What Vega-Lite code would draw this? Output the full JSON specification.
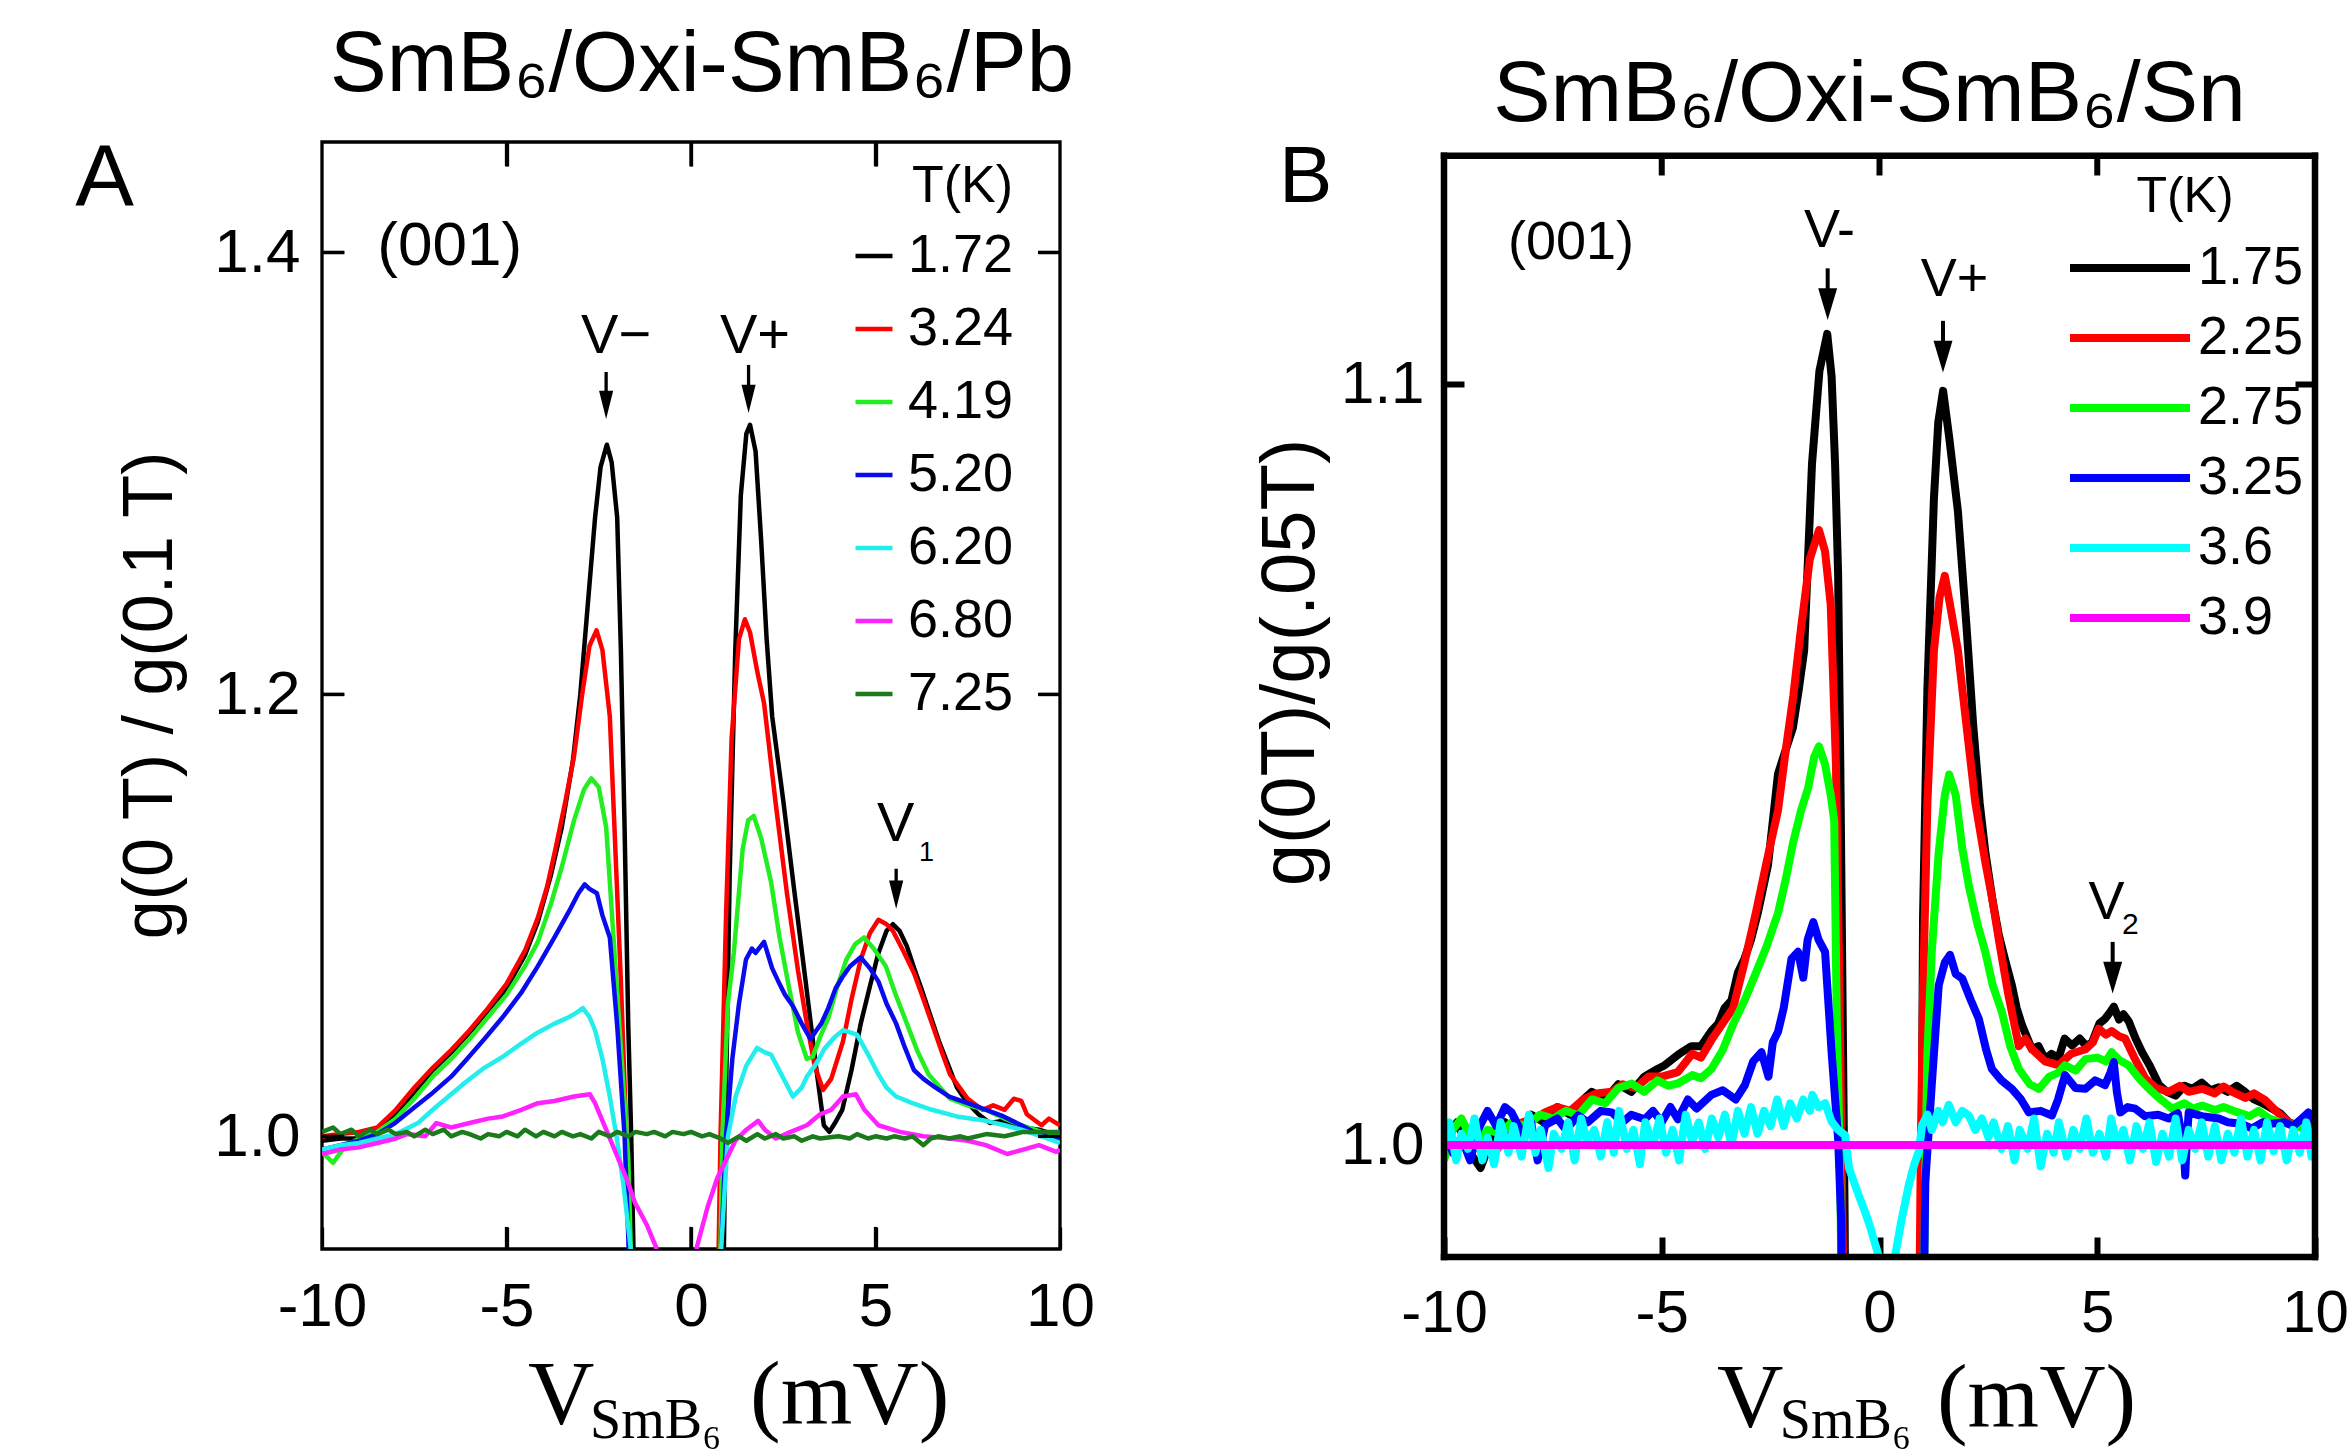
{
"$schema": "https://vega.github.io/schema/vega-lite/v6.json",
"background": "white",
"padding": {"left": 73, "top": 21, "right": 0, "bottom": 0},
"spacing": 155,
"config": {"view": {"stroke": null}, "font": "Liberation Sans"},
"resolve": {"scale": {"x": "independent", "y": "independent", "color": "independent"}, "legend": {"color": "independent"}},
"datasets": {
"curvesA": [
{"T":"1.72","x":-10,"y":0.998},{"T":"1.72","x":-9.5,"y":0.999},{"T":"1.72","x":-9,"y":0.999},{"T":"1.72","x":-8.5,"y":1.002},{"T":"1.72","x":-8,"y":1.01},{"T":"1.72","x":-7.5,"y":1.02},{"T":"1.72","x":-7,"y":1.03},{"T":"1.72","x":-6.5,"y":1.038},{"T":"1.72","x":-6,"y":1.047},{"T":"1.72","x":-5.5,"y":1.057},{"T":"1.72","x":-5,"y":1.067},{"T":"1.72","x":-4.5,"y":1.082},{"T":"1.72","x":-4.15,"y":1.097},{"T":"1.72","x":-3.8,"y":1.118},{"T":"1.72","x":-3.5,"y":1.14},{"T":"1.72","x":-3.2,"y":1.17},{"T":"1.72","x":-3,"y":1.2},{"T":"1.72","x":-2.8,"y":1.24},{"T":"1.72","x":-2.6,"y":1.28},{"T":"1.72","x":-2.45,"y":1.303},{"T":"1.72","x":-2.28,"y":1.313},{"T":"1.72","x":-2.15,"y":1.305},{"T":"1.72","x":-2,"y":1.28},{"T":"1.72","x":-1.9,"y":1.22},{"T":"1.72","x":-1.8,"y":1.14},{"T":"1.72","x":-1.7,"y":1.05},{"T":"1.72","x":-1.62,"y":1.0},{"T":"1.72","x":-1.5,"y":0.9},{"T":"1.72","x":0.85,"y":0.9},{"T":"1.72","x":0.95,"y":1.02},{"T":"1.72","x":1.05,"y":1.12},{"T":"1.72","x":1.2,"y":1.22},{"T":"1.72","x":1.35,"y":1.29},{"T":"1.72","x":1.5,"y":1.318},{"T":"1.72","x":1.6,"y":1.322},{"T":"1.72","x":1.75,"y":1.31},{"T":"1.72","x":1.9,"y":1.27},{"T":"1.72","x":2.05,"y":1.225},{"T":"1.72","x":2.2,"y":1.19},{"T":"1.72","x":2.5,"y":1.152},{"T":"1.72","x":2.8,"y":1.111},{"T":"1.72","x":3.1,"y":1.071},{"T":"1.72","x":3.4,"y":1.03},{"T":"1.72","x":3.6,"y":1.005},{"T":"1.72","x":3.75,"y":1.002},{"T":"1.72","x":3.9,"y":1.006},{"T":"1.72","x":4.1,"y":1.012},{"T":"1.72","x":4.35,"y":1.03},{"T":"1.72","x":4.6,"y":1.051},{"T":"1.72","x":4.85,"y":1.068},{"T":"1.72","x":5.08,"y":1.083},{"T":"1.72","x":5.3,"y":1.093},{"T":"1.72","x":5.47,"y":1.096},{"T":"1.72","x":5.65,"y":1.093},{"T":"1.72","x":5.85,"y":1.086},{"T":"1.72","x":6.05,"y":1.076},{"T":"1.72","x":6.24,"y":1.067},{"T":"1.72","x":6.5,"y":1.054},{"T":"1.72","x":6.72,"y":1.043},{"T":"1.72","x":7,"y":1.031},{"T":"1.72","x":7.21,"y":1.022},{"T":"1.72","x":7.5,"y":1.015},{"T":"1.72","x":7.79,"y":1.01},{"T":"1.72","x":8.1,"y":1.006},{"T":"1.72","x":8.47,"y":1.007},{"T":"1.72","x":9,"y":1.004},{"T":"1.72","x":9.43,"y":1.003},{"T":"1.72","x":10,"y":1.0},
{"T":"3.24","x":-10,"y":1.0},{"T":"3.24","x":-9.5,"y":1.001},{"T":"3.24","x":-9,"y":1.002},{"T":"3.24","x":-8.5,"y":1.004},{"T":"3.24","x":-8,"y":1.012},{"T":"3.24","x":-7.5,"y":1.022},{"T":"3.24","x":-7,"y":1.031},{"T":"3.24","x":-6.5,"y":1.039},{"T":"3.24","x":-6,"y":1.048},{"T":"3.24","x":-5.5,"y":1.058},{"T":"3.24","x":-5,"y":1.069},{"T":"3.24","x":-4.5,"y":1.084},{"T":"3.24","x":-4.15,"y":1.099},{"T":"3.24","x":-3.9,"y":1.113},{"T":"3.24","x":-3.66,"y":1.131},{"T":"3.24","x":-3.4,"y":1.152},{"T":"3.24","x":-3.17,"y":1.172},{"T":"3.24","x":-2.95,"y":1.2},{"T":"3.24","x":-2.75,"y":1.222},{"T":"3.24","x":-2.56,"y":1.229},{"T":"3.24","x":-2.4,"y":1.22},{"T":"3.24","x":-2.2,"y":1.19},{"T":"3.24","x":-2.05,"y":1.13},{"T":"3.24","x":-1.9,"y":1.07},{"T":"3.24","x":-1.75,"y":1.0},{"T":"3.24","x":-1.6,"y":0.9},{"T":"3.24","x":0.7,"y":0.9},{"T":"3.24","x":0.8,"y":1.0},{"T":"3.24","x":0.95,"y":1.1},{"T":"3.24","x":1.1,"y":1.18},{"T":"3.24","x":1.3,"y":1.225},{"T":"3.24","x":1.46,"y":1.234},{"T":"3.24","x":1.6,"y":1.228},{"T":"3.24","x":1.8,"y":1.21},{"T":"3.24","x":1.98,"y":1.196},{"T":"3.24","x":2.3,"y":1.15},{"T":"3.24","x":2.6,"y":1.11},{"T":"3.24","x":2.9,"y":1.075},{"T":"3.24","x":3.14,"y":1.051},{"T":"3.24","x":3.35,"y":1.032},{"T":"3.24","x":3.58,"y":1.021},{"T":"3.24","x":3.8,"y":1.026},{"T":"3.24","x":4.12,"y":1.043},{"T":"3.24","x":4.35,"y":1.062},{"T":"3.24","x":4.6,"y":1.08},{"T":"3.24","x":4.85,"y":1.092},{"T":"3.24","x":5.08,"y":1.098},{"T":"3.24","x":5.3,"y":1.096},{"T":"3.24","x":5.47,"y":1.093},{"T":"3.24","x":5.75,"y":1.084},{"T":"3.24","x":6.04,"y":1.074},{"T":"3.24","x":6.3,"y":1.062},{"T":"3.24","x":6.53,"y":1.051},{"T":"3.24","x":6.8,"y":1.038},{"T":"3.24","x":7.02,"y":1.028},{"T":"3.24","x":7.5,"y":1.017},{"T":"3.24","x":7.9,"y":1.012},{"T":"3.24","x":8.19,"y":1.014},{"T":"3.24","x":8.5,"y":1.012},{"T":"3.24","x":8.75,"y":1.017},{"T":"3.24","x":8.95,"y":1.016},{"T":"3.24","x":9.1,"y":1.01},{"T":"3.24","x":9.5,"y":1.005},{"T":"3.24","x":9.7,"y":1.008},{"T":"3.24","x":10,"y":1.005},
{"T":"4.19","x":-10,"y":0.993},{"T":"4.19","x":-9.7,"y":0.988},{"T":"4.19","x":-9.4,"y":0.995},{"T":"4.19","x":-9,"y":0.999},{"T":"4.19","x":-8.5,"y":1.002},{"T":"4.19","x":-8,"y":1.008},{"T":"4.19","x":-7.5,"y":1.017},{"T":"4.19","x":-7,"y":1.027},{"T":"4.19","x":-6.5,"y":1.035},{"T":"4.19","x":-6,"y":1.044},{"T":"4.19","x":-5.5,"y":1.054},{"T":"4.19","x":-5,"y":1.064},{"T":"4.19","x":-4.5,"y":1.077},{"T":"4.19","x":-4.15,"y":1.088},{"T":"4.19","x":-3.8,"y":1.105},{"T":"4.19","x":-3.5,"y":1.122},{"T":"4.19","x":-3.17,"y":1.143},{"T":"4.19","x":-2.9,"y":1.157},{"T":"4.19","x":-2.7,"y":1.162},{"T":"4.19","x":-2.5,"y":1.158},{"T":"4.19","x":-2.3,"y":1.14},{"T":"4.19","x":-2.1,"y":1.09},{"T":"4.19","x":-1.9,"y":1.04},{"T":"4.19","x":-1.7,"y":0.99},{"T":"4.19","x":-1.55,"y":0.9},{"T":"4.19","x":0.75,"y":0.9},{"T":"4.19","x":0.85,"y":1.0},{"T":"4.19","x":1.0,"y":1.06},{"T":"4.19","x":1.16,"y":1.083},{"T":"4.19","x":1.4,"y":1.13},{"T":"4.19","x":1.55,"y":1.143},{"T":"4.19","x":1.7,"y":1.145},{"T":"4.19","x":1.9,"y":1.135},{"T":"4.19","x":2.17,"y":1.115},{"T":"4.19","x":2.4,"y":1.09},{"T":"4.19","x":2.66,"y":1.067},{"T":"4.19","x":2.9,"y":1.047},{"T":"4.19","x":3.14,"y":1.035},{"T":"4.19","x":3.3,"y":1.036},{"T":"4.19","x":3.5,"y":1.045},{"T":"4.19","x":3.73,"y":1.054},{"T":"4.19","x":3.95,"y":1.067},{"T":"4.19","x":4.21,"y":1.08},{"T":"4.19","x":4.45,"y":1.087},{"T":"4.19","x":4.69,"y":1.09},{"T":"4.19","x":4.95,"y":1.085},{"T":"4.19","x":5.28,"y":1.077},{"T":"4.19","x":5.55,"y":1.064},{"T":"4.19","x":5.85,"y":1.051},{"T":"4.19","x":6.15,"y":1.038},{"T":"4.19","x":6.44,"y":1.028},{"T":"4.19","x":7.02,"y":1.017},{"T":"4.19","x":7.5,"y":1.014},{"T":"4.19","x":7.99,"y":1.012},{"T":"4.19","x":8.5,"y":1.008},{"T":"4.19","x":8.95,"y":1.005},{"T":"4.19","x":9.5,"y":1.002},{"T":"4.19","x":10,"y":1.0},
{"T":"5.20","x":-10,"y":0.994},{"T":"5.20","x":-9.5,"y":0.996},{"T":"5.20","x":-9,"y":0.998},{"T":"5.20","x":-8.5,"y":1.001},{"T":"5.20","x":-8.02,"y":1.006},{"T":"5.20","x":-7.5,"y":1.013},{"T":"5.20","x":-7.05,"y":1.019},{"T":"5.20","x":-6.5,"y":1.027},{"T":"5.20","x":-6.07,"y":1.035},{"T":"5.20","x":-5.6,"y":1.044},{"T":"5.20","x":-5.1,"y":1.054},{"T":"5.20","x":-4.6,"y":1.065},{"T":"5.20","x":-4.15,"y":1.077},{"T":"5.20","x":-3.7,"y":1.09},{"T":"5.20","x":-3.3,"y":1.102},{"T":"5.20","x":-3.05,"y":1.11},{"T":"5.20","x":-2.88,"y":1.114},{"T":"5.20","x":-2.75,"y":1.112},{"T":"5.20","x":-2.55,"y":1.11},{"T":"5.20","x":-2.4,"y":1.1},{"T":"5.20","x":-2.2,"y":1.09},{"T":"5.20","x":-2,"y":1.05},{"T":"5.20","x":-1.8,"y":1.0},{"T":"5.20","x":-1.69,"y":0.95},{"T":"5.20","x":-1.55,"y":0.9},{"T":"5.20","x":0.7,"y":0.9},{"T":"5.20","x":0.82,"y":0.95},{"T":"5.20","x":0.95,"y":1.0},{"T":"5.20","x":1.12,"y":1.035},{"T":"5.20","x":1.3,"y":1.06},{"T":"5.20","x":1.49,"y":1.08},{"T":"5.20","x":1.65,"y":1.085},{"T":"5.20","x":1.75,"y":1.083},{"T":"5.20","x":1.98,"y":1.088},{"T":"5.20","x":2.2,"y":1.076},{"T":"5.20","x":2.37,"y":1.07},{"T":"5.20","x":2.55,"y":1.064},{"T":"5.20","x":2.76,"y":1.059},{"T":"5.20","x":3,"y":1.051},{"T":"5.20","x":3.24,"y":1.044},{"T":"5.20","x":3.4,"y":1.048},{"T":"5.20","x":3.53,"y":1.051},{"T":"5.20","x":3.72,"y":1.058},{"T":"5.20","x":3.92,"y":1.067},{"T":"5.20","x":4.1,"y":1.072},{"T":"5.20","x":4.31,"y":1.077},{"T":"5.20","x":4.6,"y":1.081},{"T":"5.20","x":4.85,"y":1.076},{"T":"5.20","x":5.08,"y":1.07},{"T":"5.20","x":5.3,"y":1.06},{"T":"5.20","x":5.56,"y":1.051},{"T":"5.20","x":5.8,"y":1.04},{"T":"5.20","x":6.04,"y":1.03},{"T":"5.20","x":6.3,"y":1.026},{"T":"5.20","x":6.63,"y":1.022},{"T":"5.20","x":7,"y":1.018},{"T":"5.20","x":7.5,"y":1.015},{"T":"5.20","x":8,"y":1.012},{"T":"5.20","x":8.47,"y":1.009},{"T":"5.20","x":8.95,"y":1.005},{"T":"5.20","x":9.4,"y":1.001},{"T":"5.20","x":10,"y":0.998},
{"T":"6.20","x":-10,"y":0.994},{"T":"6.20","x":-9.5,"y":0.996},{"T":"6.20","x":-9,"y":0.997},{"T":"6.20","x":-8.5,"y":0.999},{"T":"6.20","x":-8,"y":1.001},{"T":"6.20","x":-7.4,"y":1.006},{"T":"6.20","x":-7,"y":1.012},{"T":"6.20","x":-6.5,"y":1.019},{"T":"6.20","x":-6.07,"y":1.025},{"T":"6.20","x":-5.6,"y":1.031},{"T":"6.20","x":-5.1,"y":1.036},{"T":"6.20","x":-4.6,"y":1.042},{"T":"6.20","x":-4.15,"y":1.047},{"T":"6.20","x":-3.7,"y":1.051},{"T":"6.20","x":-3.3,"y":1.054},{"T":"6.20","x":-3.1,"y":1.056},{"T":"6.20","x":-2.93,"y":1.058},{"T":"6.20","x":-2.75,"y":1.054},{"T":"6.20","x":-2.6,"y":1.048},{"T":"6.20","x":-2.4,"y":1.035},{"T":"6.20","x":-2.2,"y":1.018},{"T":"6.20","x":-2,"y":0.998},{"T":"6.20","x":-1.83,"y":0.978},{"T":"6.20","x":-1.64,"y":0.95},{"T":"6.20","x":-1.5,"y":0.9},{"T":"6.20","x":0.7,"y":0.9},{"T":"6.20","x":0.82,"y":0.95},{"T":"6.20","x":1.0,"y":1.0},{"T":"6.20","x":1.21,"y":1.018},{"T":"6.20","x":1.5,"y":1.032},{"T":"6.20","x":1.79,"y":1.04},{"T":"6.20","x":2,"y":1.038},{"T":"6.20","x":2.17,"y":1.037},{"T":"6.20","x":2.45,"y":1.028},{"T":"6.20","x":2.76,"y":1.018},{"T":"6.20","x":3,"y":1.022},{"T":"6.20","x":3.14,"y":1.027},{"T":"6.20","x":3.4,"y":1.033},{"T":"6.20","x":3.63,"y":1.04},{"T":"6.20","x":3.9,"y":1.045},{"T":"6.20","x":4.12,"y":1.048},{"T":"6.20","x":4.5,"y":1.046},{"T":"6.20","x":4.8,"y":1.037},{"T":"6.20","x":5.08,"y":1.028},{"T":"6.20","x":5.3,"y":1.022},{"T":"6.20","x":5.56,"y":1.018},{"T":"6.20","x":6,"y":1.015},{"T":"6.20","x":6.53,"y":1.012},{"T":"6.20","x":7.2,"y":1.009},{"T":"6.20","x":7.99,"y":1.007},{"T":"6.20","x":8.5,"y":1.005},{"T":"6.20","x":8.95,"y":1.003},{"T":"6.20","x":9.5,"y":1.0},{"T":"6.20","x":10,"y":0.997},
{"T":"6.80","x":-10,"y":0.992},{"T":"6.80","x":-9.5,"y":0.994},{"T":"6.80","x":-9,"y":0.995},{"T":"6.80","x":-8.5,"y":0.997},{"T":"6.80","x":-8,"y":0.999},{"T":"6.80","x":-7.7,"y":1.001},{"T":"6.80","x":-7.2,"y":1.0},{"T":"6.80","x":-6.9,"y":1.006},{"T":"6.80","x":-6.5,"y":1.004},{"T":"6.80","x":-6,"y":1.006},{"T":"6.80","x":-5.5,"y":1.008},{"T":"6.80","x":-5.1,"y":1.009},{"T":"6.80","x":-4.6,"y":1.012},{"T":"6.80","x":-4.15,"y":1.015},{"T":"6.80","x":-3.7,"y":1.016},{"T":"6.80","x":-3.17,"y":1.018},{"T":"6.80","x":-2.74,"y":1.019},{"T":"6.80","x":-2.6,"y":1.015},{"T":"6.80","x":-2.3,"y":1.003},{"T":"6.80","x":-2,"y":0.991},{"T":"6.80","x":-1.75,"y":0.981},{"T":"6.80","x":-1.52,"y":0.97},{"T":"6.80","x":-1.2,"y":0.96},{"T":"6.80","x":-0.95,"y":0.95},{"T":"6.80","x":-0.8,"y":0.93},{"T":"6.80","x":0.05,"y":0.93},{"T":"6.80","x":0.16,"y":0.95},{"T":"6.80","x":0.45,"y":0.968},{"T":"6.80","x":0.71,"y":0.981},{"T":"6.80","x":1.0,"y":0.991},{"T":"6.80","x":1.2,"y":0.998},{"T":"6.80","x":1.5,"y":1.003},{"T":"6.80","x":1.82,"y":1.007},{"T":"6.80","x":2,"y":1.003},{"T":"6.80","x":2.3,"y":0.999},{"T":"6.80","x":2.7,"y":1.002},{"T":"6.80","x":3.14,"y":1.005},{"T":"6.80","x":3.5,"y":1.01},{"T":"6.80","x":3.8,"y":1.012},{"T":"6.80","x":4.12,"y":1.018},{"T":"6.80","x":4.47,"y":1.019},{"T":"6.80","x":4.7,"y":1.012},{"T":"6.80","x":5.08,"y":1.005},{"T":"6.80","x":5.66,"y":1.002},{"T":"6.80","x":6.3,"y":1.0},{"T":"6.80","x":7.02,"y":0.999},{"T":"6.80","x":7.5,"y":0.998},{"T":"6.80","x":7.99,"y":0.996},{"T":"6.80","x":8.57,"y":0.992},{"T":"6.80","x":9,"y":0.994},{"T":"6.80","x":9.43,"y":0.996},{"T":"6.80","x":9.9,"y":0.993},{"T":"6.80","x":10,"y":0.994},
{"T":"7.25","x":-10,"y":1.002},{"T":"7.25","x":-9.7,"y":1.004},{"T":"7.25","x":-9.5,"y":1.001},{"T":"7.25","x":-9.2,"y":1.003},{"T":"7.25","x":-9,"y":1.0},{"T":"7.25","x":-8.7,"y":1.003},{"T":"7.25","x":-8.5,"y":1.001},{"T":"7.25","x":-8.2,"y":1.003},{"T":"7.25","x":-8,"y":1.001},{"T":"7.25","x":-7.7,"y":1.002},{"T":"7.25","x":-7.5,"y":1.0},{"T":"7.25","x":-7.2,"y":1.003},{"T":"7.25","x":-7,"y":1.001},{"T":"7.25","x":-6.7,"y":1.003},{"T":"7.25","x":-6.5,"y":1.0},{"T":"7.25","x":-6.2,"y":1.002},{"T":"7.25","x":-6,"y":1.001},{"T":"7.25","x":-5.7,"y":0.999},{"T":"7.25","x":-5.5,"y":1.001},{"T":"7.25","x":-5.2,"y":1.0},{"T":"7.25","x":-5,"y":1.002},{"T":"7.25","x":-4.7,"y":1.0},{"T":"7.25","x":-4.5,"y":1.003},{"T":"7.25","x":-4.2,"y":1.0},{"T":"7.25","x":-4,"y":1.002},{"T":"7.25","x":-3.7,"y":1.0},{"T":"7.25","x":-3.5,"y":1.002},{"T":"7.25","x":-3.2,"y":1.0},{"T":"7.25","x":-3,"y":1.001},{"T":"7.25","x":-2.7,"y":0.999},{"T":"7.25","x":-2.5,"y":1.002},{"T":"7.25","x":-2.2,"y":1.0},{"T":"7.25","x":-2,"y":1.002},{"T":"7.25","x":-1.7,"y":1.0},{"T":"7.25","x":-1.5,"y":1.002},{"T":"7.25","x":-1.2,"y":1.001},{"T":"7.25","x":-1,"y":1.002},{"T":"7.25","x":-0.7,"y":1.0},{"T":"7.25","x":-0.5,"y":1.002},{"T":"7.25","x":-0.2,"y":1.001},{"T":"7.25","x":0,"y":1.002},{"T":"7.25","x":0.3,"y":1.0},{"T":"7.25","x":0.5,"y":1.001},{"T":"7.25","x":0.8,"y":0.999},{"T":"7.25","x":1,"y":0.997},{"T":"7.25","x":1.3,"y":1.0},{"T":"7.25","x":1.5,"y":0.998},{"T":"7.25","x":1.8,"y":1.001},{"T":"7.25","x":2,"y":0.999},{"T":"7.25","x":2.3,"y":1.001},{"T":"7.25","x":2.5,"y":0.999},{"T":"7.25","x":2.8,"y":1.0},{"T":"7.25","x":3,"y":0.998},{"T":"7.25","x":3.3,"y":1.0},{"T":"7.25","x":3.5,"y":0.999},{"T":"7.25","x":4,"y":1.0},{"T":"7.25","x":4.3,"y":0.999},{"T":"7.25","x":4.5,"y":1.001},{"T":"7.25","x":4.8,"y":0.999},{"T":"7.25","x":5,"y":1.0},{"T":"7.25","x":5.3,"y":0.999},{"T":"7.25","x":5.5,"y":1.0},{"T":"7.25","x":5.8,"y":0.999},{"T":"7.25","x":6,"y":1.0},{"T":"7.25","x":6.3,"y":0.996},{"T":"7.25","x":6.5,"y":0.999},{"T":"7.25","x":6.7,"y":1.0},{"T":"7.25","x":7,"y":0.999},{"T":"7.25","x":7.3,"y":1.0},{"T":"7.25","x":7.5,"y":0.999},{"T":"7.25","x":8,"y":1.001},{"T":"7.25","x":8.5,"y":1.0},{"T":"7.25","x":9,"y":1.002},{"T":"7.25","x":9.5,"y":1.002},{"T":"7.25","x":10,"y":1.002}
],
"curvesB": [
{"T":"1.75","x":-10,"y":1.0},{"T":"1.75","x":-9.7,"y":1.003},{"T":"1.75","x":-9.4,"y":0.999},{"T":"1.75","x":-9.16,"y":0.997},{"T":"1.75","x":-8.9,"y":1.001},{"T":"1.75","x":-8.6,"y":1.003},{"T":"1.75","x":-8.3,"y":1.001},{"T":"1.75","x":-8,"y":1.004},{"T":"1.75","x":-7.7,"y":1.003},{"T":"1.75","x":-7.4,"y":1.005},{"T":"1.75","x":-7.1,"y":1.004},{"T":"1.75","x":-6.8,"y":1.006},{"T":"1.75","x":-6.61,"y":1.007},{"T":"1.75","x":-6.3,"y":1.006},{"T":"1.75","x":-6,"y":1.008},{"T":"1.75","x":-5.7,"y":1.007},{"T":"1.75","x":-5.4,"y":1.009},{"T":"1.75","x":-5.1,"y":1.01},{"T":"1.75","x":-4.93,"y":1.0105},{"T":"1.75","x":-4.6,"y":1.012},{"T":"1.75","x":-4.32,"y":1.013},{"T":"1.75","x":-4.1,"y":1.013},{"T":"1.75","x":-3.86,"y":1.015},{"T":"1.75","x":-3.7,"y":1.016},{"T":"1.75","x":-3.56,"y":1.018},{"T":"1.75","x":-3.4,"y":1.019},{"T":"1.75","x":-3.25,"y":1.0227},{"T":"1.75","x":-3.1,"y":1.0245},{"T":"1.75","x":-2.95,"y":1.027},{"T":"1.75","x":-2.79,"y":1.0306},{"T":"1.75","x":-2.56,"y":1.0368},{"T":"1.75","x":-2.33,"y":1.0488},{"T":"1.75","x":-2.15,"y":1.052},{"T":"1.75","x":-1.99,"y":1.0548},{"T":"1.75","x":-1.85,"y":1.06},{"T":"1.75","x":-1.73,"y":1.065},{"T":"1.75","x":-1.55,"y":1.0895},{"T":"1.75","x":-1.38,"y":1.1017},{"T":"1.75","x":-1.2,"y":1.1066},{"T":"1.75","x":-1.1,"y":1.101},{"T":"1.75","x":-1.02,"y":1.0895},{"T":"1.75","x":-0.95,"y":1.075},{"T":"1.75","x":-0.9,"y":1.05},{"T":"1.75","x":-0.85,"y":1.02},{"T":"1.75","x":-0.8,"y":0.99},{"T":"1.75","x":-0.78,"y":0.97},{"T":"1.75","x":0.93,"y":0.97},{"T":"1.75","x":0.97,"y":1.0},{"T":"1.75","x":1.0,"y":1.03},{"T":"1.75","x":1.1,"y":1.06},{"T":"1.75","x":1.25,"y":1.085},{"T":"1.75","x":1.35,"y":1.095},{"T":"1.75","x":1.46,"y":1.0991},{"T":"1.75","x":1.6,"y":1.093},{"T":"1.75","x":1.8,"y":1.0833},{"T":"1.75","x":2,"y":1.068},{"T":"1.75","x":2.15,"y":1.0553},{"T":"1.75","x":2.3,"y":1.045},{"T":"1.75","x":2.43,"y":1.0385},{"T":"1.75","x":2.6,"y":1.032},{"T":"1.75","x":2.74,"y":1.0276},{"T":"1.75","x":2.9,"y":1.024},{"T":"1.75","x":3.04,"y":1.021},{"T":"1.75","x":3.15,"y":1.018},{"T":"1.75","x":3.27,"y":1.0158},{"T":"1.75","x":3.5,"y":1.0126},{"T":"1.75","x":3.65,"y":1.013},{"T":"1.75","x":3.8,"y":1.0113},{"T":"1.75","x":3.95,"y":1.012},{"T":"1.75","x":4.11,"y":1.0114},{"T":"1.75","x":4.25,"y":1.014},{"T":"1.75","x":4.42,"y":1.0131},{"T":"1.75","x":4.6,"y":1.014},{"T":"1.75","x":4.75,"y":1.013},{"T":"1.75","x":4.88,"y":1.0135},{"T":"1.75","x":5.05,"y":1.016},{"T":"1.75","x":5.18,"y":1.0166},{"T":"1.75","x":5.3,"y":1.0175},{"T":"1.75","x":5.38,"y":1.0182},{"T":"1.75","x":5.5,"y":1.0165},{"T":"1.75","x":5.6,"y":1.0172},{"T":"1.75","x":5.72,"y":1.0163},{"T":"1.75","x":5.88,"y":1.014},{"T":"1.75","x":6.03,"y":1.0122},{"T":"1.75","x":6.2,"y":1.0105},{"T":"1.75","x":6.42,"y":1.0079},{"T":"1.75","x":6.6,"y":1.007},{"T":"1.75","x":6.8,"y":1.0065},{"T":"1.75","x":7,"y":1.0078},{"T":"1.75","x":7.18,"y":1.0074},{"T":"1.75","x":7.4,"y":1.0082},{"T":"1.75","x":7.6,"y":1.0072},{"T":"1.75","x":7.79,"y":1.0076},{"T":"1.75","x":8,"y":1.007},{"T":"1.75","x":8.2,"y":1.0078},{"T":"1.75","x":8.39,"y":1.007},{"T":"1.75","x":8.6,"y":1.006},{"T":"1.75","x":8.8,"y":1.0055},{"T":"1.75","x":9.01,"y":1.0048},{"T":"1.75","x":9.2,"y":1.0042},{"T":"1.75","x":9.4,"y":1.003},{"T":"1.75","x":9.54,"y":1.0026},{"T":"1.75","x":9.75,"y":1.003},{"T":"1.75","x":9.92,"y":1.0035},{"T":"1.75","x":10,"y":1.0025},
{"T":"2.25","x":-10,"y":1.001},{"T":"2.25","x":-9.8,"y":0.999},{"T":"2.25","x":-9.5,"y":1.002},{"T":"2.25","x":-9.2,"y":0.9995},{"T":"2.25","x":-8.83,"y":0.999},{"T":"2.25","x":-8.5,"y":1.002},{"T":"2.25","x":-8.2,"y":1.003},{"T":"2.25","x":-7.9,"y":1.0035},{"T":"2.25","x":-7.68,"y":1.0043},{"T":"2.25","x":-7.4,"y":1.005},{"T":"2.25","x":-7.1,"y":1.0045},{"T":"2.25","x":-6.8,"y":1.006},{"T":"2.25","x":-6.5,"y":1.0068},{"T":"2.25","x":-6.15,"y":1.007},{"T":"2.25","x":-5.9,"y":1.008},{"T":"2.25","x":-5.6,"y":1.0075},{"T":"2.25","x":-5.3,"y":1.009},{"T":"2.25","x":-5,"y":1.009},{"T":"2.25","x":-4.63,"y":1.0096},{"T":"2.25","x":-4.3,"y":1.012},{"T":"2.25","x":-4.1,"y":1.0115},{"T":"2.25","x":-3.86,"y":1.0138},{"T":"2.25","x":-3.6,"y":1.016},{"T":"2.25","x":-3.36,"y":1.018},{"T":"2.25","x":-3.1,"y":1.024},{"T":"2.25","x":-2.84,"y":1.0305},{"T":"2.25","x":-2.6,"y":1.037},{"T":"2.25","x":-2.33,"y":1.044},{"T":"2.25","x":-2.15,"y":1.052},{"T":"2.25","x":-1.98,"y":1.059},{"T":"2.25","x":-1.8,"y":1.068},{"T":"2.25","x":-1.6,"y":1.077},{"T":"2.25","x":-1.39,"y":1.0808},{"T":"2.25","x":-1.25,"y":1.078},{"T":"2.25","x":-1.12,"y":1.071},{"T":"2.25","x":-1,"y":1.05},{"T":"2.25","x":-0.92,"y":1.02},{"T":"2.25","x":-0.85,"y":0.99},{"T":"2.25","x":-0.8,"y":0.97},{"T":"2.25","x":0.9,"y":0.97},{"T":"2.25","x":0.95,"y":1.0},{"T":"2.25","x":1.0,"y":1.02},{"T":"2.25","x":1.1,"y":1.045},{"T":"2.25","x":1.25,"y":1.065},{"T":"2.25","x":1.38,"y":1.072},{"T":"2.25","x":1.5,"y":1.0748},{"T":"2.25","x":1.65,"y":1.07},{"T":"2.25","x":1.8,"y":1.065},{"T":"2.25","x":2,"y":1.055},{"T":"2.25","x":2.2,"y":1.045},{"T":"2.25","x":2.43,"y":1.0372},{"T":"2.25","x":2.6,"y":1.032},{"T":"2.25","x":2.74,"y":1.027},{"T":"2.25","x":2.95,"y":1.02},{"T":"2.25","x":3.2,"y":1.013},{"T":"2.25","x":3.35,"y":1.014},{"T":"2.25","x":3.5,"y":1.0126},{"T":"2.25","x":3.8,"y":1.011},{"T":"2.25","x":4.11,"y":1.0105},{"T":"2.25","x":4.4,"y":1.012},{"T":"2.25","x":4.73,"y":1.0126},{"T":"2.25","x":4.9,"y":1.0135},{"T":"2.25","x":5.03,"y":1.0153},{"T":"2.25","x":5.2,"y":1.0145},{"T":"2.25","x":5.33,"y":1.015},{"T":"2.25","x":5.5,"y":1.0143},{"T":"2.25","x":5.64,"y":1.014},{"T":"2.25","x":5.85,"y":1.0115},{"T":"2.25","x":6.1,"y":1.0088},{"T":"2.25","x":6.35,"y":1.0075},{"T":"2.25","x":6.64,"y":1.007},{"T":"2.25","x":6.9,"y":1.0078},{"T":"2.25","x":7.1,"y":1.007},{"T":"2.25","x":7.41,"y":1.0074},{"T":"2.25","x":7.7,"y":1.0068},{"T":"2.25","x":7.9,"y":1.0077},{"T":"2.25","x":8.1,"y":1.007},{"T":"2.25","x":8.4,"y":1.0062},{"T":"2.25","x":8.6,"y":1.0068},{"T":"2.25","x":8.86,"y":1.0059},{"T":"2.25","x":9.1,"y":1.0045},{"T":"2.25","x":9.4,"y":1.003},{"T":"2.25","x":9.62,"y":1.0026},{"T":"2.25","x":9.85,"y":1.0032},{"T":"2.25","x":10,"y":1.002},
{"T":"2.75","x":-10,"y":0.998},{"T":"2.75","x":-9.8,"y":1.002},{"T":"2.75","x":-9.6,"y":1.0035},{"T":"2.75","x":-9.3,"y":1.0},{"T":"2.75","x":-9,"y":1.002},{"T":"2.75","x":-8.7,"y":1.0015},{"T":"2.75","x":-8.45,"y":1.003},{"T":"2.75","x":-8.1,"y":1.0025},{"T":"2.75","x":-7.8,"y":1.004},{"T":"2.75","x":-7.5,"y":1.0035},{"T":"2.75","x":-7.2,"y":1.0045},{"T":"2.75","x":-6.92,"y":1.0039},{"T":"2.75","x":-6.6,"y":1.006},{"T":"2.75","x":-6.3,"y":1.0055},{"T":"2.75","x":-6,"y":1.0075},{"T":"2.75","x":-5.69,"y":1.0081},{"T":"2.75","x":-5.4,"y":1.007},{"T":"2.75","x":-5.1,"y":1.0085},{"T":"2.75","x":-4.85,"y":1.0078},{"T":"2.75","x":-4.63,"y":1.0081},{"T":"2.75","x":-4.3,"y":1.0092},{"T":"2.75","x":-4.1,"y":1.0088},{"T":"2.75","x":-3.86,"y":1.01},{"T":"2.75","x":-3.6,"y":1.0125},{"T":"2.75","x":-3.36,"y":1.0159},{"T":"2.75","x":-3.1,"y":1.019},{"T":"2.75","x":-2.84,"y":1.0226},{"T":"2.75","x":-2.6,"y":1.026},{"T":"2.75","x":-2.33,"y":1.0305},{"T":"2.75","x":-2.15,"y":1.035},{"T":"2.75","x":-1.99,"y":1.0396},{"T":"2.75","x":-1.8,"y":1.044},{"T":"2.75","x":-1.64,"y":1.0469},{"T":"2.75","x":-1.5,"y":1.051},{"T":"2.75","x":-1.39,"y":1.0524},{"T":"2.75","x":-1.25,"y":1.05},{"T":"2.75","x":-1.12,"y":1.046},{"T":"2.75","x":-1.04,"y":1.0426},{"T":"2.75","x":-0.98,"y":1.016},{"T":"2.75","x":-0.9,"y":0.995},{"T":"2.75","x":-0.85,"y":0.97},{"T":"2.75","x":1.0,"y":0.97},{"T":"2.75","x":1.05,"y":0.995},{"T":"2.75","x":1.1,"y":1.012},{"T":"2.75","x":1.2,"y":1.0254},{"T":"2.75","x":1.36,"y":1.0385},{"T":"2.75","x":1.5,"y":1.046},{"T":"2.75","x":1.6,"y":1.0487},{"T":"2.75","x":1.75,"y":1.046},{"T":"2.75","x":1.9,"y":1.039},{"T":"2.75","x":2.05,"y":1.0341},{"T":"2.75","x":2.25,"y":1.029},{"T":"2.75","x":2.43,"y":1.0254},{"T":"2.75","x":2.6,"y":1.021},{"T":"2.75","x":2.81,"y":1.0175},{"T":"2.75","x":3,"y":1.013},{"T":"2.75","x":3.2,"y":1.01},{"T":"2.75","x":3.45,"y":1.008},{"T":"2.75","x":3.66,"y":1.0074},{"T":"2.75","x":3.9,"y":1.009},{"T":"2.75","x":4.1,"y":1.0095},{"T":"2.75","x":4.26,"y":1.0105},{"T":"2.75","x":4.5,"y":1.0098},{"T":"2.75","x":4.73,"y":1.0113},{"T":"2.75","x":5,"y":1.0115},{"T":"2.75","x":5.2,"y":1.011},{"T":"2.75","x":5.33,"y":1.0122},{"T":"2.75","x":5.5,"y":1.0112},{"T":"2.75","x":5.72,"y":1.0105},{"T":"2.75","x":6,"y":1.0085},{"T":"2.75","x":6.26,"y":1.007},{"T":"2.75","x":6.5,"y":1.0058},{"T":"2.75","x":6.72,"y":1.0048},{"T":"2.75","x":7,"y":1.0055},{"T":"2.75","x":7.2,"y":1.0048},{"T":"2.75","x":7.41,"y":1.0052},{"T":"2.75","x":7.7,"y":1.0046},{"T":"2.75","x":7.9,"y":1.005},{"T":"2.75","x":8.18,"y":1.0044},{"T":"2.75","x":8.5,"y":1.0038},{"T":"2.75","x":8.7,"y":1.0045},{"T":"2.75","x":8.95,"y":1.0035},{"T":"2.75","x":9.2,"y":1.003},{"T":"2.75","x":9.54,"y":1.0026},{"T":"2.75","x":9.8,"y":1.002},{"T":"2.75","x":10,"y":1.0015},
{"T":"3.25","x":-10,"y":1.0022},{"T":"3.25","x":-9.8,"y":0.999},{"T":"3.25","x":-9.6,"y":1.001},{"T":"3.25","x":-9.4,"y":0.998},{"T":"3.25","x":-9.22,"y":1.002},{"T":"3.25","x":-9,"y":1.0045},{"T":"3.25","x":-8.8,"y":1.0025},{"T":"3.25","x":-8.6,"y":1.005},{"T":"3.25","x":-8.45,"y":1.0043},{"T":"3.25","x":-8.2,"y":1.0015},{"T":"3.25","x":-8,"y":1.003},{"T":"3.25","x":-7.85,"y":0.998},{"T":"3.25","x":-7.68,"y":1.0026},{"T":"3.25","x":-7.4,"y":1.0035},{"T":"3.25","x":-7.2,"y":1.002},{"T":"3.25","x":-6.92,"y":1.0039},{"T":"3.25","x":-6.7,"y":1.003},{"T":"3.25","x":-6.4,"y":1.0045},{"T":"3.25","x":-6.15,"y":1.0043},{"T":"3.25","x":-5.9,"y":1.003},{"T":"3.25","x":-5.7,"y":1.004},{"T":"3.25","x":-5.39,"y":1.0034},{"T":"3.25","x":-5.2,"y":1.0045},{"T":"3.25","x":-5,"y":1.003},{"T":"3.25","x":-4.8,"y":1.005},{"T":"3.25","x":-4.63,"y":1.0034},{"T":"3.25","x":-4.4,"y":1.006},{"T":"3.25","x":-4.2,"y":1.0048},{"T":"3.25","x":-3.86,"y":1.0066},{"T":"3.25","x":-3.6,"y":1.0072},{"T":"3.25","x":-3.3,"y":1.006},{"T":"3.25","x":-3.09,"y":1.0079},{"T":"3.25","x":-2.9,"y":1.011},{"T":"3.25","x":-2.71,"y":1.0122},{"T":"3.25","x":-2.55,"y":1.009},{"T":"3.25","x":-2.45,"y":1.0135},{"T":"3.25","x":-2.33,"y":1.0149},{"T":"3.25","x":-2.2,"y":1.018},{"T":"3.25","x":-2.02,"y":1.0245},{"T":"3.25","x":-1.87,"y":1.0254},{"T":"3.25","x":-1.75,"y":1.022},{"T":"3.25","x":-1.65,"y":1.027},{"T":"3.25","x":-1.52,"y":1.0293},{"T":"3.25","x":-1.4,"y":1.027},{"T":"3.25","x":-1.25,"y":1.0254},{"T":"3.25","x":-1.1,"y":1.0122},{"T":"3.25","x":-0.95,"y":1.0008},{"T":"3.25","x":-0.88,"y":0.99},{"T":"3.25","x":-0.85,"y":0.97},{"T":"3.25","x":1.0,"y":0.97},{"T":"3.25","x":1.05,"y":0.995},{"T":"3.25","x":1.2,"y":1.0079},{"T":"3.25","x":1.36,"y":1.021},{"T":"3.25","x":1.5,"y":1.024},{"T":"3.25","x":1.62,"y":1.025},{"T":"3.25","x":1.75,"y":1.0225},{"T":"3.25","x":1.9,"y":1.0219},{"T":"3.25","x":2.1,"y":1.019},{"T":"3.25","x":2.28,"y":1.0166},{"T":"3.25","x":2.45,"y":1.0125},{"T":"3.25","x":2.58,"y":1.01},{"T":"3.25","x":2.8,"y":1.0085},{"T":"3.25","x":3.04,"y":1.0074},{"T":"3.25","x":3.25,"y":1.006},{"T":"3.25","x":3.43,"y":1.0043},{"T":"3.25","x":3.7,"y":1.0045},{"T":"3.25","x":3.96,"y":1.0039},{"T":"3.25","x":4.1,"y":1.006},{"T":"3.25","x":4.26,"y":1.0092},{"T":"3.25","x":4.5,"y":1.0075},{"T":"3.25","x":4.73,"y":1.0074},{"T":"3.25","x":4.95,"y":1.0085},{"T":"3.25","x":5.18,"y":1.0079},{"T":"3.25","x":5.3,"y":1.0095},{"T":"3.25","x":5.38,"y":1.0109},{"T":"3.25","x":5.45,"y":1.007},{"T":"3.25","x":5.53,"y":1.0043},{"T":"3.25","x":5.7,"y":1.005},{"T":"3.25","x":5.87,"y":1.0048},{"T":"3.25","x":6.1,"y":1.0038},{"T":"3.25","x":6.4,"y":1.004},{"T":"3.25","x":6.64,"y":1.0035},{"T":"3.25","x":6.85,"y":1.0042},{"T":"3.25","x":6.98,"y":1.0},{"T":"3.25","x":7.02,"y":0.996},{"T":"3.25","x":7.06,"y":1.001},{"T":"3.25","x":7.1,"y":1.0043},{"T":"3.25","x":7.4,"y":1.0038},{"T":"3.25","x":7.79,"y":1.0035},{"T":"3.25","x":8,"y":1.003},{"T":"3.25","x":8.3,"y":1.0028},{"T":"3.25","x":8.55,"y":1.0022},{"T":"3.25","x":8.8,"y":1.003},{"T":"3.25","x":9,"y":1.0028},{"T":"3.25","x":9.31,"y":1.003},{"T":"3.25","x":9.5,"y":1.0025},{"T":"3.25","x":9.7,"y":1.0035},{"T":"3.25","x":9.85,"y":1.0043},{"T":"3.25","x":10,"y":1.003},
{"T":"3.6","x":-10,"y":1.0},{"T":"3.6","x":-9.88,"y":1.003},{"T":"3.6","x":-9.72,"y":0.998},{"T":"3.6","x":-9.6,"y":1.0015},{"T":"3.6","x":-9.45,"y":0.9995},{"T":"3.6","x":-9.3,"y":1.0035},{"T":"3.6","x":-9.12,"y":0.998},{"T":"3.6","x":-9.0,"y":1.001},{"T":"3.6","x":-8.85,"y":0.9975},{"T":"3.6","x":-8.7,"y":1.003},{"T":"3.6","x":-8.52,"y":0.999},{"T":"3.6","x":-8.4,"y":1.0025},{"T":"3.6","x":-8.22,"y":0.9985},{"T":"3.6","x":-8.05,"y":1.004},{"T":"3.6","x":-7.9,"y":0.999},{"T":"3.6","x":-7.78,"y":1.002},{"T":"3.6","x":-7.6,"y":0.997},{"T":"3.6","x":-7.48,"y":1.0015},{"T":"3.6","x":-7.3,"y":0.9995},{"T":"3.6","x":-7.15,"y":1.003},{"T":"3.6","x":-7.0,"y":0.998},{"T":"3.6","x":-6.85,"y":1.0035},{"T":"3.6","x":-6.72,"y":1.0005},{"T":"3.6","x":-6.55,"y":1.002},{"T":"3.6","x":-6.4,"y":0.9985},{"T":"3.6","x":-6.25,"y":1.003},{"T":"3.6","x":-6.1,"y":0.999},{"T":"3.6","x":-5.98,"y":1.0045},{"T":"3.6","x":-5.8,"y":0.9995},{"T":"3.6","x":-5.65,"y":1.002},{"T":"3.6","x":-5.5,"y":0.9975},{"T":"3.6","x":-5.38,"y":1.003},{"T":"3.6","x":-5.2,"y":1.0},{"T":"3.6","x":-5.05,"y":1.0035},{"T":"3.6","x":-4.9,"y":0.999},{"T":"3.6","x":-4.75,"y":1.002},{"T":"3.6","x":-4.6,"y":0.998},{"T":"3.6","x":-4.45,"y":1.004},{"T":"3.6","x":-4.3,"y":1.0005},{"T":"3.6","x":-4.15,"y":1.003},{"T":"3.6","x":-4.0,"y":0.9995},{"T":"3.6","x":-3.85,"y":1.0035},{"T":"3.6","x":-3.7,"y":1.001},{"T":"3.6","x":-3.55,"y":1.004},{"T":"3.6","x":-3.4,"y":1.0},{"T":"3.6","x":-3.25,"y":1.0045},{"T":"3.6","x":-3.1,"y":1.0015},{"T":"3.6","x":-2.95,"y":1.005},{"T":"3.6","x":-2.8,"y":1.0015},{"T":"3.6","x":-2.65,"y":1.0045},{"T":"3.6","x":-2.5,"y":1.0025},{"T":"3.6","x":-2.35,"y":1.006},{"T":"3.6","x":-2.2,"y":1.0025},{"T":"3.6","x":-2.05,"y":1.0055},{"T":"3.6","x":-1.9,"y":1.0035},{"T":"3.6","x":-1.75,"y":1.006},{"T":"3.6","x":-1.6,"y":1.0045},{"T":"3.6","x":-1.54,"y":1.0066},{"T":"3.6","x":-1.4,"y":1.005},{"T":"3.6","x":-1.25,"y":1.0055},{"T":"3.6","x":-1.1,"y":1.0031},{"T":"3.6","x":-0.95,"y":1.002},{"T":"3.6","x":-0.79,"y":1.0013},{"T":"3.6","x":-0.7,"y":0.997},{"T":"3.6","x":-0.56,"y":0.9947},{"T":"3.6","x":-0.45,"y":0.993},{"T":"3.6","x":-0.33,"y":0.9912},{"T":"3.6","x":-0.2,"y":0.989},{"T":"3.6","x":-0.1,"y":0.987},{"T":"3.6","x":-0.02,"y":0.9855},{"T":"3.6","x":0.1,"y":0.985},{"T":"3.6","x":0.25,"y":0.985},{"T":"3.6","x":0.36,"y":0.9855},{"T":"3.6","x":0.5,"y":0.99},{"T":"3.6","x":0.67,"y":0.9947},{"T":"3.6","x":0.8,"y":0.9975},{"T":"3.6","x":0.9,"y":0.9991},{"T":"3.6","x":0.98,"y":1.0026},{"T":"3.6","x":1.1,"y":1.004},{"T":"3.6","x":1.2,"y":1.002},{"T":"3.6","x":1.35,"y":1.0045},{"T":"3.6","x":1.45,"y":1.003},{"T":"3.6","x":1.59,"y":1.0053},{"T":"3.6","x":1.75,"y":1.003},{"T":"3.6","x":1.9,"y":1.0045},{"T":"3.6","x":2.05,"y":1.0039},{"T":"3.6","x":2.2,"y":1.002},{"T":"3.6","x":2.35,"y":1.0035},{"T":"3.6","x":2.5,"y":1.001},{"T":"3.6","x":2.62,"y":1.003},{"T":"3.6","x":2.8,"y":0.9995},{"T":"3.6","x":2.95,"y":1.0025},{"T":"3.6","x":3.1,"y":0.998},{"T":"3.6","x":3.22,"y":1.002},{"T":"3.6","x":3.4,"y":0.9995},{"T":"3.6","x":3.55,"y":1.0035},{"T":"3.6","x":3.7,"y":0.9972},{"T":"3.6","x":3.85,"y":1.0015},{"T":"3.6","x":4.0,"y":0.999},{"T":"3.6","x":4.12,"y":1.003},{"T":"3.6","x":4.3,"y":0.9985},{"T":"3.6","x":4.45,"y":1.002},{"T":"3.6","x":4.6,"y":0.9995},{"T":"3.6","x":4.75,"y":1.0035},{"T":"3.6","x":4.9,"y":0.999},{"T":"3.6","x":5.05,"y":1.0015},{"T":"3.6","x":5.2,"y":0.9985},{"T":"3.6","x":5.32,"y":1.0035},{"T":"3.6","x":5.45,"y":1.0},{"T":"3.6","x":5.6,"y":1.002},{"T":"3.6","x":5.75,"y":0.998},{"T":"3.6","x":5.9,"y":1.0025},{"T":"3.6","x":6.05,"y":0.9995},{"T":"3.6","x":6.2,"y":1.003},{"T":"3.6","x":6.35,"y":0.9978},{"T":"3.6","x":6.5,"y":1.0015},{"T":"3.6","x":6.65,"y":0.9985},{"T":"3.6","x":6.8,"y":1.0035},{"T":"3.6","x":6.95,"y":0.998},{"T":"3.6","x":7.1,"y":1.002},{"T":"3.6","x":7.25,"y":0.9995},{"T":"3.6","x":7.4,"y":1.003},{"T":"3.6","x":7.55,"y":0.9985},{"T":"3.6","x":7.7,"y":1.0025},{"T":"3.6","x":7.85,"y":0.998},{"T":"3.6","x":8.0,"y":1.0015},{"T":"3.6","x":8.15,"y":0.999},{"T":"3.6","x":8.3,"y":1.0035},{"T":"3.6","x":8.45,"y":0.9985},{"T":"3.6","x":8.6,"y":1.002},{"T":"3.6","x":8.75,"y":0.998},{"T":"3.6","x":8.9,"y":1.003},{"T":"3.6","x":9.05,"y":0.9992},{"T":"3.6","x":9.2,"y":1.0025},{"T":"3.6","x":9.35,"y":0.998},{"T":"3.6","x":9.5,"y":1.002},{"T":"3.6","x":9.65,"y":0.999},{"T":"3.6","x":9.8,"y":1.003},{"T":"3.6","x":9.92,"y":0.9985},{"T":"3.6","x":10,"y":1.001},
{"T":"3.9","x":-10,"y":1.0},{"T":"3.9","x":-5,"y":1.0},{"T":"3.9","x":0,"y":1.0},{"T":"3.9","x":5,"y":1.0},{"T":"3.9","x":10,"y":1.0}
]
},
"hconcat": [
{
"width": 738, "height": 1107,
"view": {"stroke": "black", "strokeWidth": 3.3},
"title": {"text": "SmB₆/Oxi-SmB₆/Pb", "font": "Liberation Sans", "fontSize": 85, "fontWeight": "normal", "color": "black", "offset": 27, "dx": 11},
"resolve": {"axis": {"x": "independent", "y": "independent"}},
"layer": [
{"data": {"name": "curvesA"},
 "mark": {"type": "line", "clip": true, "strokeWidth": 4.5, "strokeJoin": "round"},
 "encoding": {
  "x": {"field": "x", "type": "quantitative", "scale": {"domain": [-10, 10], "nice": false, "zero": false},
        "axis": {"orient": "bottom", "values": [-10, -5, 0, 5, 10], "labelExpr": "'' + datum.value", "title": null, "domain": false, "grid": false, "tickSize": -22, "tickWidth": 3.3, "tickColor": "black", "labelFont": "Liberation Sans", "labelFontSize": 62, "labelColor": "black", "labelPadding": 49, "labelFlush": false, "labelOverlap": false}},
  "y": {"field": "y", "type": "quantitative", "scale": {"domain": [0.949, 1.45], "nice": false, "zero": false},
        "axis": {"orient": "left", "values": [1.0, 1.2, 1.4], "format": ".1f", "domain": false, "grid": false, "tickSize": -22, "tickWidth": 3.3, "tickColor": "black", "labelFont": "Liberation Sans", "labelFontSize": 62, "labelColor": "black", "labelPadding": 44, "labelFlush": false, "labelOverlap": false,
                 "title": "g(0 T) / g(0.1 T)", "titleFont": "Liberation Sans", "titleFontSize": 70, "titleFontWeight": "normal", "titleColor": "black", "titleX": -172, "titleY": 553, "titleBaseline": "middle", "titleAlign": "center"}},
  "color": {"field": "T", "type": "nominal",
        "scale": {"domain": ["1.72", "3.24", "4.19", "5.20", "6.20", "6.80", "7.25"], "range": ["#000000", "#ff0000", "#22ee22", "#0a0aee", "#22eeee", "#ff22ff", "#1b7a1b"]},
        "legend": {"orient": "none", "legendX": 525, "legendY": 19, "title": "T(K)", "titleFont": "Liberation Sans", "titleFontSize": 52, "titleFontWeight": "normal", "titleColor": "black", "titleAnchor": "end", "titlePadding": 16, "labelFont": "Liberation Sans", "labelFontSize": 54, "labelColor": "black", "symbolType": "stroke", "symbolSize": 1369, "symbolStrokeWidth": 4.6, "clipHeight": 54, "rowPadding": 19, "labelOffset": 7, "padding": 0}}
 }},
{"data": {"values": [{"x": 0, "y": 1.2}]},
 "mark": {"type": "point", "opacity": 0},
 "encoding": {
  "x": {"field": "x", "type": "quantitative", "axis": {"orient": "top", "values": [-5, 0, 5], "labels": false, "title": null, "domain": false, "grid": false, "tickSize": -24, "tickWidth": 3.3, "tickColor": "black"}},
  "y": {"field": "y", "type": "quantitative", "axis": {"orient": "right", "values": [1.0, 1.2, 1.4], "labels": false, "title": null, "domain": false, "grid": false, "tickSize": -22, "tickWidth": 3.3, "tickColor": "black"}}
 }},
{"data": {"values": [{"x": -5}, {"x": 0}, {"x": 5}]},
 "mark": {"type": "rule", "strokeWidth": 3.3, "color": "black"},
 "encoding": {"x": {"field": "x", "type": "quantitative", "axis": null}, "y": {"datum": 0.949, "type": "quantitative", "axis": null}, "y2": {"datum": 0.959}}},
{"data": {"values": [{"x": -5}, {"x": 0}, {"x": 5}]},
 "mark": {"type": "rule", "strokeWidth": 3.3, "color": "black"},
 "encoding": {"x": {"field": "x", "type": "quantitative", "axis": null}, "y": {"datum": 1.45, "type": "quantitative", "axis": null}, "y2": {"datum": 1.439}}},
{"data": {"values": [{"y": 1.0}, {"y": 1.2}, {"y": 1.4}]},
 "mark": {"type": "rule", "strokeWidth": 3.3, "color": "black"},
 "encoding": {"y": {"field": "y", "type": "quantitative", "axis": null}, "x": {"datum": -10, "type": "quantitative", "axis": null}, "x2": {"datum": -9.404}}},
{"data": {"values": [{"y": 1.0}, {"y": 1.2}, {"y": 1.4}]},
 "mark": {"type": "rule", "strokeWidth": 3.3, "color": "black"},
 "encoding": {"y": {"field": "y", "type": "quantitative", "axis": null}, "x": {"datum": 10, "type": "quantitative", "axis": null}, "x2": {"datum": 9.404}}},
{"data": {"values": [{"x": -8.5, "y": 1.3945, "t": "(001)"}]},
 "mark": {"type": "text", "align": "left", "baseline": "alphabetic", "font": "Liberation Sans", "fontSize": 62, "color": "black"},
 "encoding": {"x": {"field": "x", "type": "quantitative", "axis": null}, "y": {"field": "y", "type": "quantitative", "axis": null}, "text": {"field": "t"}}},
{"data": {"values": [{"x": -2.98, "y": 1.3545, "t": "V−"}, {"x": 0.786, "y": 1.3545, "t": "V+"}, {"x": 5.041, "y": 1.1335, "t": "V"}]},
 "mark": {"type": "text", "align": "left", "baseline": "alphabetic", "font": "Liberation Sans", "fontSize": 56, "color": "black"},
 "encoding": {"x": {"field": "x", "type": "quantitative", "axis": null}, "y": {"field": "y", "type": "quantitative", "axis": null}, "text": {"field": "t"}}},
{"data": {"values": [{"x": 6.179, "y": 1.1245, "t": "1"}]},
 "mark": {"type": "text", "align": "left", "baseline": "alphabetic", "font": "Liberation Sans", "fontSize": 27, "color": "black"},
 "encoding": {"x": {"field": "x", "type": "quantitative", "axis": null}, "y": {"field": "y", "type": "quantitative", "axis": null}, "text": {"field": "t"}}},
{"data": {"values": [{"x": -16.69, "y": 1.421, "t": "A"}]},
 "mark": {"type": "text", "align": "left", "baseline": "alphabetic", "font": "Liberation Sans", "fontSize": 88, "color": "black"},
 "encoding": {"x": {"field": "x", "type": "quantitative", "axis": null}, "y": {"field": "y", "type": "quantitative", "axis": null}, "text": {"field": "t"}}},
{"data": {"values": [{"x": -4.417, "y": 0.8698, "t": "V"}, {"x": 1.599, "y": 0.8698, "t": "(mV)"}]},
 "mark": {"type": "text", "align": "left", "baseline": "alphabetic", "font": "Liberation Serif", "fontSize": 92, "color": "black"},
 "encoding": {"x": {"field": "x", "type": "quantitative", "axis": null}, "y": {"field": "y", "type": "quantitative", "axis": null}, "text": {"field": "t"}}},
{"data": {"values": [{"x": -2.737, "y": 0.8635, "t": "SmB₆"}]},
 "mark": {"type": "text", "align": "left", "baseline": "alphabetic", "font": "Liberation Serif", "fontSize": 56, "color": "black"},
 "encoding": {"x": {"field": "x", "type": "quantitative", "axis": null}, "y": {"field": "y", "type": "quantitative", "axis": null}, "text": {"field": "t"}}},
{"data": {"values": [{"x": -2.3, "y": 1.3459, "y2": 1.334}, {"x": 1.56, "y": 1.3491, "y2": 1.337}, {"x": 5.56, "y": 1.1211, "y2": 1.112}]},
 "mark": {"type": "rule", "strokeWidth": 3.3, "color": "black"},
 "encoding": {"x": {"field": "x", "type": "quantitative", "axis": null}, "y": {"field": "y", "type": "quantitative", "axis": null}, "y2": {"field": "y2"}}},
{"data": {"values": [{"x": -2.3, "y": 1.331}, {"x": 1.56, "y": 1.3337}, {"x": 5.56, "y": 1.1094}]},
 "mark": {"type": "point", "shape": "M-0.5,-1L0.5,-1L0,1Z", "filled": true, "color": "black", "size": 800, "opacity": 1, "strokeWidth": 0},
 "encoding": {"x": {"field": "x", "type": "quantitative", "axis": null}, "y": {"field": "y", "type": "quantitative", "axis": null}}}
]
},
{
"width": 871, "height": 1115,
"view": {"stroke": null},
"title": {"text": "SmB₆/Oxi-SmB₆/Sn", "font": "Liberation Sans", "fontSize": 86, "fontWeight": "normal", "color": "black", "offset": -1, "dx": -10},
"resolve": {"axis": {"x": "independent", "y": "independent"}},
"layer": [
{"data": {"name": "curvesB"},
 "mark": {"type": "line", "clip": true, "strokeWidth": 8, "strokeJoin": "round"},
 "encoding": {
  "x": {"field": "x", "type": "quantitative", "scale": {"domain": [-10, 10], "nice": false, "zero": false},
        "axis": {"orient": "bottom", "values": [-10, -5, 0, 5, 10], "labelExpr": "'' + datum.value", "title": null, "domain": false, "grid": false, "tickSize": -20, "tickWidth": 6, "tickColor": "black", "labelFont": "Liberation Sans", "labelFontSize": 60, "labelColor": "black", "labelPadding": 47, "labelFlush": false, "labelOverlap": false}},
  "y": {"field": "y", "type": "quantitative", "scale": {"domain": [0.9853, 1.1318], "nice": false, "zero": false},
        "axis": {"orient": "left", "values": [1.0, 1.1], "format": ".1f", "domain": false, "grid": false, "tickSize": -20, "tickWidth": 6, "tickColor": "black", "labelFont": "Liberation Sans", "labelFontSize": 60, "labelColor": "black", "labelPadding": 40, "labelFlush": false, "labelOverlap": false,
                 "title": "g(0T)/g(.05T)", "titleFont": "Liberation Sans", "titleFontSize": 76, "titleFontWeight": "normal", "titleColor": "black", "titleX": -154, "titleY": 520, "titleBaseline": "middle", "titleAlign": "center"}},
  "color": {"field": "T", "type": "nominal",
        "scale": {"domain": ["1.75", "2.25", "2.75", "3.25", "3.6", "3.9"], "range": ["#000000", "#ff0000", "#00ff00", "#0000ff", "#00ffff", "#ff00ff"]},
        "legend": {"orient": "none", "legendX": 622, "legendY": 30, "title": "T(K)", "titleFont": "Liberation Sans", "titleFontSize": 50, "titleFontWeight": "normal", "titleColor": "black", "titleAnchor": "middle", "titlePadding": 19, "labelFont": "Liberation Sans", "labelFontSize": 54, "labelColor": "black", "symbolType": "stroke", "symbolSize": 14400, "symbolStrokeWidth": 8, "clipHeight": 54, "rowPadding": 16, "labelOffset": 4, "padding": 0}}
 }},
{"data": {"values": [{"x": 0, "y": 1.05}]},
 "mark": {"type": "point", "opacity": 0},
 "encoding": {
  "y": {"field": "y", "type": "quantitative", "axis": {"orient": "right", "values": [1.0, 1.1], "labels": false, "title": null, "domain": false, "grid": false, "tickSize": -20, "tickWidth": 6, "tickColor": "black"}}
 }},
{"data": {"values": [{}]},
 "mark": {"type": "rule", "strokeWidth": 6.5, "color": "black", "strokeCap": "square"},
 "encoding": {"x": {"datum": -10, "type": "quantitative", "axis": null}, "x2": {"datum": 10}, "y": {"datum": 1.13, "type": "quantitative", "axis": null}}},
{"data": {"values": [{}]},
 "mark": {"type": "rule", "strokeWidth": 6.5, "color": "black", "strokeCap": "square"},
 "encoding": {"x": {"datum": -10, "type": "quantitative", "axis": null}, "x2": {"datum": 10}, "y": {"datum": 0.9853, "type": "quantitative", "axis": null}}},
{"data": {"values": [{}]},
 "mark": {"type": "rule", "strokeWidth": 6.5, "color": "black", "strokeCap": "square"},
 "encoding": {"x": {"datum": -10, "type": "quantitative", "axis": null}, "y": {"datum": 0.9853, "type": "quantitative", "axis": null}, "y2": {"datum": 1.13}}},
{"data": {"values": [{}]},
 "mark": {"type": "rule", "strokeWidth": 6.5, "color": "black", "strokeCap": "square"},
 "encoding": {"x": {"datum": 10, "type": "quantitative", "axis": null}, "y": {"datum": 0.9853, "type": "quantitative", "axis": null}, "y2": {"datum": 1.13}}},
{"data": {"values": [{"x": -5}, {"x": 0}, {"x": 5}]},
 "mark": {"type": "rule", "strokeWidth": 6, "color": "black"},
 "encoding": {"x": {"field": "x", "type": "quantitative", "axis": null}, "y": {"datum": 1.13, "type": "quantitative", "axis": null}, "y2": {"datum": 1.1274}}},
{"data": {"values": [{"x": -8.53, "y": 1.1164, "t": "(001)"}, {"x": -1.734, "y": 1.118, "t": "V-"}, {"x": 0.946, "y": 1.1116, "t": "V+"}, {"x": 4.8, "y": 1.02975, "t": "V"}]},
 "mark": {"type": "text", "align": "left", "baseline": "alphabetic", "font": "Liberation Sans", "fontSize": 54, "color": "black"},
 "encoding": {"x": {"field": "x", "type": "quantitative", "axis": null}, "y": {"field": "y", "type": "quantitative", "axis": null}, "text": {"field": "t"}}},
{"data": {"values": [{"x": 5.568, "y": 1.02778, "t": "2"}]},
 "mark": {"type": "text", "align": "left", "baseline": "alphabetic", "font": "Liberation Sans", "fontSize": 30, "color": "black"},
 "encoding": {"x": {"field": "x", "type": "quantitative", "axis": null}, "y": {"field": "y", "type": "quantitative", "axis": null}, "text": {"field": "t"}}},
{"data": {"values": [{"x": -13.79, "y": 1.1239, "t": "B"}]},
 "mark": {"type": "text", "align": "left", "baseline": "alphabetic", "font": "Liberation Sans", "fontSize": 80, "color": "black"},
 "encoding": {"x": {"field": "x", "type": "quantitative", "axis": null}, "y": {"field": "y", "type": "quantitative", "axis": null}, "text": {"field": "t"}}},
{"data": {"values": [{"x": -3.73, "y": 0.963, "t": "V"}, {"x": 1.32, "y": 0.963, "t": "(mV)"}]},
 "mark": {"type": "text", "align": "left", "baseline": "alphabetic", "font": "Liberation Serif", "fontSize": 92, "color": "black"},
 "encoding": {"x": {"field": "x", "type": "quantitative", "axis": null}, "y": {"field": "y", "type": "quantitative", "axis": null}, "text": {"field": "t"}}},
{"data": {"values": [{"x": -2.29, "y": 0.9615, "t": "SmB₆"}]},
 "mark": {"type": "text", "align": "left", "baseline": "alphabetic", "font": "Liberation Serif", "fontSize": 56, "color": "black"},
 "encoding": {"x": {"field": "x", "type": "quantitative", "axis": null}, "y": {"field": "y", "type": "quantitative", "axis": null}, "text": {"field": "t"}}},
{"data": {"values": [{"x": -1.19, "y": 1.1152, "y2": 1.1115}, {"x": 1.458, "y": 1.1083, "y2": 1.1045}, {"x": 5.354, "y": 1.0267, "y2": 1.023}]},
 "mark": {"type": "rule", "strokeWidth": 4, "color": "black"},
 "encoding": {"x": {"field": "x", "type": "quantitative", "axis": null}, "y": {"field": "y", "type": "quantitative", "axis": null}, "y2": {"field": "y2"}}},
{"data": {"values": [{"x": -1.19, "y": 1.1105}, {"x": 1.458, "y": 1.1036}, {"x": 5.354, "y": 1.022}]},
 "mark": {"type": "point", "shape": "M-0.6,-1L0.6,-1L0,1Z", "filled": true, "color": "black", "size": 1000, "opacity": 1, "strokeWidth": 0},
 "encoding": {"x": {"field": "x", "type": "quantitative", "axis": null}, "y": {"field": "y", "type": "quantitative", "axis": null}}}
]
}
]
}
